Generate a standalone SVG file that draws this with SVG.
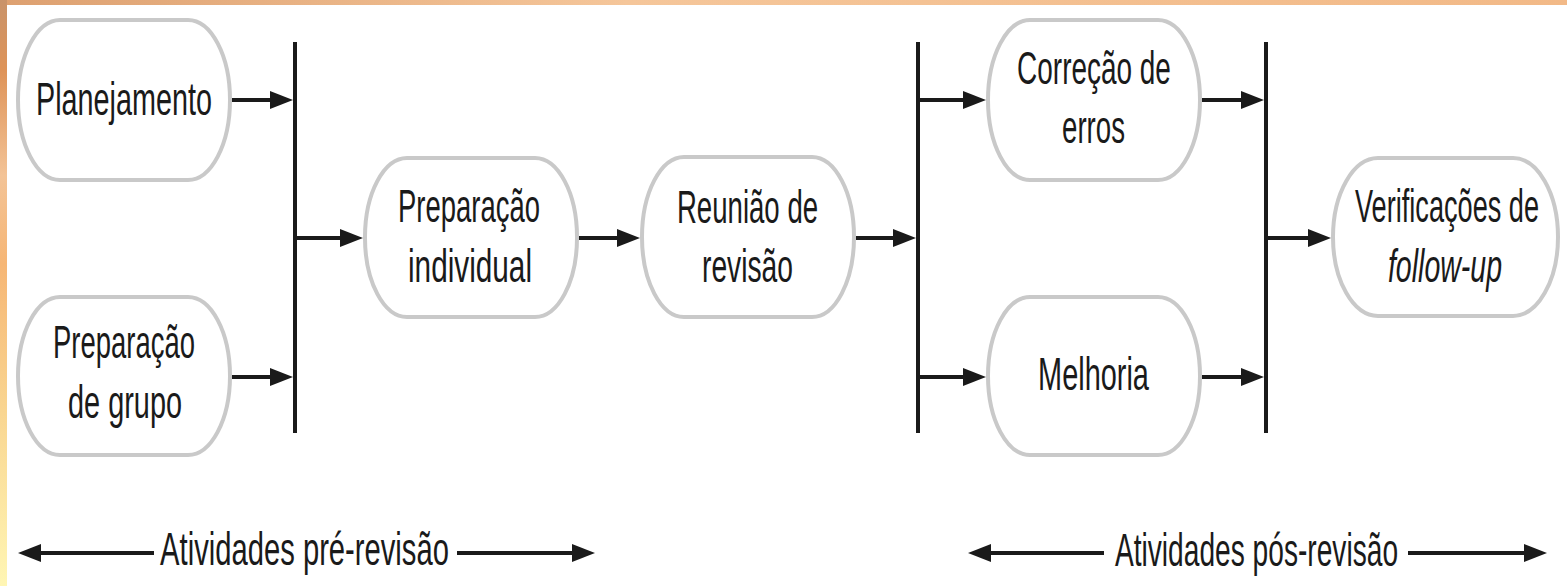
<svg xmlns="http://www.w3.org/2000/svg" width="1567" height="586" viewBox="0 0 1567 586">
<style>
.node rect{fill:#ffffff;stroke:#c9c9c9;stroke-width:4}
.node text,.label{font-family:"Liberation Sans",Arial,sans-serif;font-size:46px;fill:#1a1a1a;text-anchor:middle}
.conn line{stroke:#1a1a1a;stroke-width:4;fill:none}
.arr{marker-end:url(#ah)}
</style>
<defs>
<marker id="ah" markerUnits="userSpaceOnUse" markerWidth="24" markerHeight="20" refX="16" refY="10" orient="auto-start-reverse" viewBox="0 0 24 20">
<path d="M0,1 L23,10 L0,19 z" fill="#1a1a1a"/>
</marker>
<linearGradient id="lg" x1="0" y1="0" x2="0" y2="1">
<stop offset="0" stop-color="#c9936a"/>
<stop offset="0.12" stop-color="#de9358"/>
<stop offset="0.3" stop-color="#f3c396"/>
<stop offset="0.45" stop-color="#f6b675"/>
<stop offset="0.7" stop-color="#f9d590"/>
<stop offset="1" stop-color="#fff6b4"/>
</linearGradient>
<linearGradient id="tg" x1="0" y1="0" x2="1" y2="0">
<stop offset="0" stop-color="#dda070"/>
<stop offset="0.4" stop-color="#f5c69a"/>
<stop offset="1" stop-color="#f2b987"/>
</linearGradient>
</defs>
<rect x="0" y="0" width="1567" height="586" fill="#ffffff"/>
<rect x="0" y="0" width="1567" height="5" fill="url(#tg)"/>
<rect x="0" y="0" width="7" height="586" fill="url(#lg)"/>

<g id="n-planejamento" class="node">
<rect x="18" y="20" width="212" height="160" rx="42" ry="80"/>
<text transform="translate(124,115) scale(0.626,1)">Planejamento</text>
</g>
<g id="n-prep-grupo" class="node">
<rect x="18" y="297" width="212" height="158" rx="42" ry="79"/>
<text transform="translate(124,358) scale(0.597,1)">Preparação</text>
<text transform="translate(125,418) scale(0.628,1)">de grupo</text>
</g>
<g id="n-prep-individual" class="node">
<rect x="365" y="158" width="212" height="159" rx="42" ry="79"/>
<text transform="translate(469,222) scale(0.597,1)">Preparação</text>
<text transform="translate(470,282) scale(0.647,1)">individual</text>
</g>
<g id="n-reuniao" class="node">
<rect x="642" y="157" width="212" height="160" rx="42" ry="80"/>
<text transform="translate(747.5,223) scale(0.6,1)">Reunião de</text>
<text transform="translate(747.5,282) scale(0.614,1)">revisão</text>
</g>
<g id="n-correcao" class="node">
<rect x="988" y="20" width="212" height="160" rx="42" ry="80"/>
<text transform="translate(1094,84) scale(0.608,1)">Correção de</text>
<text transform="translate(1093.5,143) scale(0.601,1)">erros</text>
</g>
<g id="n-melhoria" class="node">
<rect x="988" y="297" width="212" height="158" rx="42" ry="79"/>
<text transform="translate(1093.5,390) scale(0.629,1)">Melhoria</text>
</g>
<g id="n-verificacoes" class="node">
<rect x="1333" y="158" width="225" height="158" rx="45" ry="79"/>
<text transform="translate(1447,222) scale(0.59,1)">Verificações de</text>
<text transform="translate(1445,282) scale(0.62,1)" font-style="italic">follow-up</text>
</g>

<g id="connectors" class="conn">
<line x1="295" y1="42" x2="295" y2="433"/>
<line x1="918" y1="42" x2="918" y2="433"/>
<line x1="1266" y1="42" x2="1266" y2="433"/>
<line class="arr" x1="232" y1="100" x2="286" y2="100"/>
<line class="arr" x1="232" y1="377" x2="286" y2="377"/>
<line class="arr" x1="297" y1="238" x2="356" y2="238"/>
<line class="arr" x1="579" y1="238" x2="633" y2="238"/>
<line class="arr" x1="856" y1="238" x2="909" y2="238"/>
<line class="arr" x1="920" y1="100" x2="979" y2="100"/>
<line class="arr" x1="920" y1="377" x2="979" y2="377"/>
<line class="arr" x1="1202" y1="100" x2="1257" y2="100"/>
<line class="arr" x1="1202" y1="377" x2="1257" y2="377"/>
<line class="arr" x1="1268" y1="238" x2="1324" y2="238"/>
<line style="marker-start:url(#ah)" x1="25" y1="553" x2="154" y2="553"/>
<line class="arr" x1="457" y1="553" x2="588" y2="553"/>
<line style="marker-start:url(#ah)" x1="975" y1="553" x2="1104" y2="553"/>
<line class="arr" x1="1408" y1="553" x2="1540" y2="553"/>
</g>

<g id="labels">
<text class="label" transform="translate(304.5,565) scale(0.635,1)">Atividades pré-revisão</text>
<text class="label" transform="translate(1256.5,566) scale(0.612,1)">Atividades pós-revisão</text>
</g>
</svg>
